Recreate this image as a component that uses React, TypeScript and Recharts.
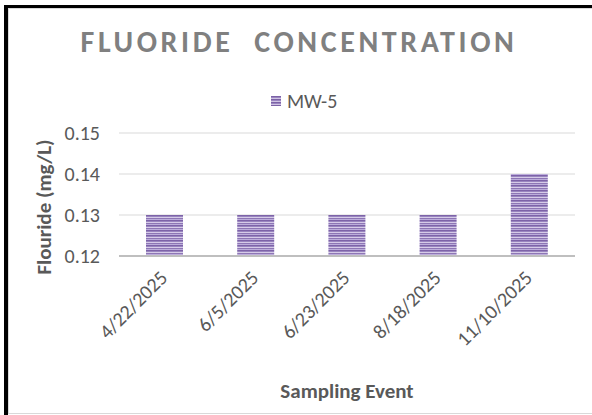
import { BarChart, Bar, XAxis, YAxis, CartesianGrid } from "recharts";

const samplingEvents = ["4/22/2025", "6/5/2025", "6/23/2025", "8/18/2025", "11/10/2025"];
const mw5Values = [0.13, 0.13, 0.13, 0.13, 0.14];
const yTicks = [0.12, 0.13, 0.14, 0.15];

const data = samplingEvents.map((event, i) => ({ event, mw5: mw5Values[i] }));

const FONT = "Carlito, Calibri, Lato, sans-serif";
const TEXT = "#595959";

function DateTick({ x, y, payload }: any) {
  const ax = x + 4;
  const ay = y + 23;
  return (
    <text
      x={ax}
      y={ay}
      transform={`rotate(-45, ${ax}, ${ay})`}
      textAnchor="end"
      fill={TEXT}
      fontSize={20}
      fontFamily={FONT}
    >
      {payload.value}
    </text>
  );
}

function LegendBox() {
  return (
    <div
      style={{
        position: "absolute",
        left: 271,
        top: 89,
        display: "flex",
        alignItems: "center",
        fontFamily: FONT,
      }}
    >
      <span
        style={{
          width: 10,
          height: 10,
          marginRight: 6,
          background: "repeating-linear-gradient(#7c62a6 0 1px, #9a85c0 1px 2px, #cfc3e3 2px 3px)",
        }}
      />
      <span style={{ fontSize: 20, color: TEXT }}>MW-5</span>
    </div>
  );
}

export default function App() {
  return (
    <div
      style={{
        position: "absolute",
        left: 0,
        top: 0,
        width: 592,
        height: 415,
        background: "#fff",
        overflow: "hidden",
      }}
    >
      <div style={{ position: "absolute", left: 8, top: 8, width: 620, height: 404, border: "1px solid #d9d9d9" }} />
      <div style={{ position: "absolute", left: 4, top: 5, width: 600, height: 3, background: "#000" }} />
      <div style={{ position: "absolute", left: 4, top: 5, width: 4, height: 420, background: "#000" }} />
      <div
        style={{
          position: "absolute",
          left: 0,
          top: 23,
          width: 598,
          textAlign: "center",
          fontFamily: FONT,
          fontWeight: 700,
          fontSize: 30,
          letterSpacing: 3.6,
          color: "#808080",
          whiteSpace: "pre",
        }}
      >
        {"FLUORIDE  CONCENTRATION"}
      </div>
      <LegendBox />
      <div style={{ position: "absolute", left: 0, top: 0 }}>
        <BarChart width={592} height={415} data={data} margin={{ top: 133, right: 17, bottom: 59, left: 59 }}>
          <defs>
            <pattern id="mwStripes" patternUnits="userSpaceOnUse" width="6" height="5">
              <rect x="0" y="0" width="6" height="1" fill="#7d63a8" />
              <rect x="0" y="1" width="6" height="1" fill="#9985bf" />
              <rect x="0" y="2" width="6" height="1" fill="#d6cbe8" />
              <rect x="0" y="3" width="6" height="1" fill="#8d76b5" />
              <rect x="0" y="4" width="6" height="1" fill="#bcaddb" />
            </pattern>
          </defs>
          <CartesianGrid vertical={false} stroke="#d9d9d9" strokeWidth={1} />
          <XAxis
            dataKey="event"
            height={100}
            tickLine={false}
            tickSize={0}
            tickMargin={0}
            axisLine={{ stroke: "#bfbfbf", strokeWidth: 2 }}
            tick={<DateTick />}
            interval={0}
            label={{
              content: () => (
                <text
                  x={347}
                  y={398}
                  textAnchor="middle"
                  fill={TEXT}
                  fontSize={21}
                  fontWeight={700}
                  fontFamily={FONT}
                >
                  Sampling Event
                </text>
              ),
            }}
          />
          <YAxis
            width={60}
            domain={[0.12, 0.15]}
            ticks={yTicks}
            allowDataOverflow
            axisLine={false}
            tickLine={false}
            tickSize={0}
            tickMargin={19}
            tickFormatter={(v: number) => v.toFixed(2)}
            tick={{ fill: TEXT, fontSize: 20, fontFamily: FONT }}
            label={{
              content: () => (
                <text
                  x={51}
                  y={207}
                  transform="rotate(-90, 51, 207)"
                  textAnchor="middle"
                  fill={TEXT}
                  fontSize={21}
                  fontWeight={700}
                  fontFamily={FONT}
                >
                  Flouride (mg/L)
                </text>
              ),
            }}
          />
          <Bar dataKey="mw5" name="MW-5" fill="url(#mwStripes)" barSize={37} isAnimationActive={false} />
        </BarChart>
      </div>
    </div>
  );
}
